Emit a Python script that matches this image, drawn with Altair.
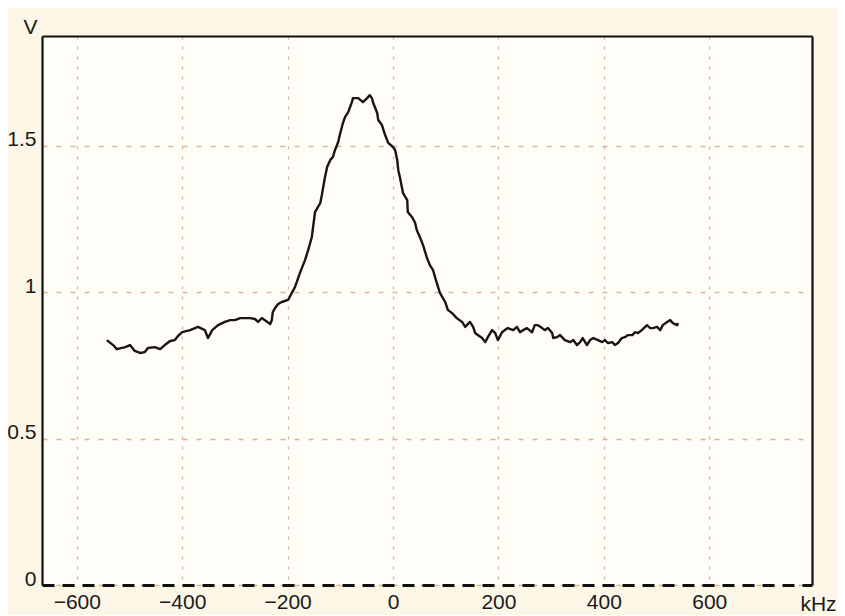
import altair as alt
import pandas as pd

# Frequency offset (kHz) and detector voltage (V)
freq_khz = [
    -543, -531, -524, -508, -499, -490, -480, -471, -465, -452, -442, -433, -423, -414,
    -408, -400, -385, -370, -357, -351, -343, -332, -319, -309, -300, -290, -271, -262,
    -256, -249, -243, -233, -230, -228, -224, -218, -211, -199, -192, -186, -176, -167,
    -161, -154, -148, -138, -135, -129, -125, -119, -114, -110, -104, -101, -95, -91,
    -85, -78, -76, -66, -57, -49, -44, -40, -38, -30, -28, -21, -15, -9, 0, 4, 8, 10,
    13, 19, 27, 28, 36, 42, 45, 51, 57, 64, 70, 76, 83, 89, 99, 104, 112, 121, 131, 137,
    146, 152, 156, 161, 169, 175, 180, 188, 194, 199, 207, 212, 218, 228, 235, 241, 247,
    254, 264, 269, 275, 283, 288, 294, 302, 304, 311, 317, 326, 336, 342, 349, 355, 360,
    368, 374, 380, 389, 397, 402, 408, 416, 421, 427, 434, 440, 446, 454, 459, 465, 472,
    482, 488, 493, 501, 507, 512, 520, 526, 531, 539, 541,
]
volts = [
    0.836, 0.819, 0.805, 0.812, 0.819, 0.799, 0.792, 0.795, 0.809, 0.812, 0.805, 0.819, 0.833, 0.836,
    0.850, 0.863, 0.870, 0.881, 0.870, 0.843, 0.870, 0.887, 0.898, 0.904, 0.904, 0.911, 0.911, 0.908,
    0.898, 0.911, 0.904, 0.891, 0.904, 0.932, 0.945, 0.959, 0.966, 0.973, 0.997, 1.017, 1.068, 1.109,
    1.143, 1.188, 1.273, 1.304, 1.331, 1.393, 1.427, 1.451, 1.461, 1.485, 1.512, 1.536, 1.577, 1.597,
    1.614, 1.648, 1.662, 1.662, 1.648, 1.662, 1.672, 1.662, 1.648, 1.611, 1.587, 1.570, 1.536, 1.509, 1.495, 1.485, 1.451, 1.416,
    1.393, 1.338, 1.314, 1.273, 1.256, 1.236, 1.212, 1.188, 1.160, 1.119, 1.092, 1.075, 1.031, 0.997, 0.966, 0.939, 0.928, 0.911, 0.898, 0.881,
    0.898, 0.881, 0.860, 0.853, 0.843, 0.829, 0.846, 0.870, 0.860, 0.836, 0.863, 0.870, 0.877, 0.870, 0.881, 0.863, 0.870,
    0.877, 0.863, 0.887, 0.887, 0.877, 0.870, 0.877, 0.860, 0.843, 0.846, 0.853, 0.836, 0.829, 0.836, 0.819, 0.829, 0.843,
    0.819, 0.836, 0.843, 0.836, 0.829, 0.836, 0.826, 0.829, 0.819, 0.826, 0.843, 0.846, 0.853, 0.853, 0.863, 0.860, 0.870,
    0.887, 0.877, 0.877, 0.881, 0.870, 0.887, 0.898, 0.904, 0.894, 0.887, 0.894,
]

x_ticks = [-600, -400, -200, 0, 200, 400, 600]
y_ticks = [0, 0.5, 1, 1.5]
y_labels_expr = "datum.value == 0 ? '0' : datum.value == 1 ? '1' : format(datum.value, '.1f')"

df = pd.DataFrame({"f": freq_khz, "v": volts})

x_scale = alt.Scale(domain=[-666, 795], nice=False, zero=False)
y_scale = alt.Scale(domain=[0, 1.874], nice=False, zero=False)

FONT = "Liberation Sans"
GRID = "#d9b59c"

base = alt.Chart(df)

main = base.mark_line(color="#1c1412", strokeWidth=2.4, strokeJoin="round").encode(
    x=alt.X(
        "f:Q",
        scale=x_scale,
        axis=alt.Axis(
            orient="bottom",
            values=x_ticks,
            ticks=False,
            labelFont=FONT,
            labelFontSize=21,
            labelColor="#1a1a1a",
            labelPadding=6,
            labelBaseline="top",
            grid=True,
            gridColor=GRID,
            gridDash=[3, 7],
            gridWidth=1.3,
            domainColor="#111111",
            domainWidth=3,
            domainDash=[12, 8],
            title="kHz",
            titleFont=FONT,
            titleFontSize=21,
            titleFontWeight="normal",
            titleColor="#1a1a1a",
            titleAnchor="start",
            titleAlign="center",
            titleBaseline="alphabetic",
            titleX=776,
            titleY=25,
        ),
    ),
    y=alt.Y(
        "v:Q",
        scale=y_scale,
        axis=alt.Axis(
            orient="left",
            values=y_ticks,
            ticks=False,
            labelExpr=y_labels_expr,
            labelFont=FONT,
            labelFontSize=21,
            labelColor="#1a1a1a",
            labelPadding=6,
            labelBaseline="alphabetic",
            grid=True,
            gridColor=GRID,
            gridDash=[5, 9],
            gridWidth=1.3,
            domainColor="#111111",
            domainWidth=2.2,
            title="V",
            titleFont=FONT,
            titleFontSize=21,
            titleFontWeight="normal",
            titleColor="#1a1a1a",
            titleAngle=0,
            titleAlign="center",
            titleBaseline="alphabetic",
            titleX=-12,
            titleY=-3,
        ),
    ),
)

frame = base.mark_line(opacity=0).encode(
    x=alt.X(
        "f:Q",
        scale=x_scale,
        axis=alt.Axis(orient="top", labels=False, ticks=False, grid=False,
                      domainColor="#111111", domainWidth=2.2, title=None),
    ),
    y=alt.Y(
        "v:Q",
        scale=y_scale,
        axis=alt.Axis(orient="right", labels=False, ticks=False, grid=False,
                      domainColor="#111111", domainWidth=2.2, title=None),
    ),
)

chart = (
    alt.layer(frame, main)
    .resolve_axis(x="independent", y="independent")
    .properties(
        width=770,
        height=549,
        padding={"left": 34, "top": 28, "right": 25, "bottom": 30},
        autosize=alt.AutoSizeParams(type="none"),
        background="#fbf6e6",
    )
    .configure_view(stroke=None, fill="#fffdf7")
)

chart.save("out.html", embed_options={"renderer": "svg", "actions": False})
